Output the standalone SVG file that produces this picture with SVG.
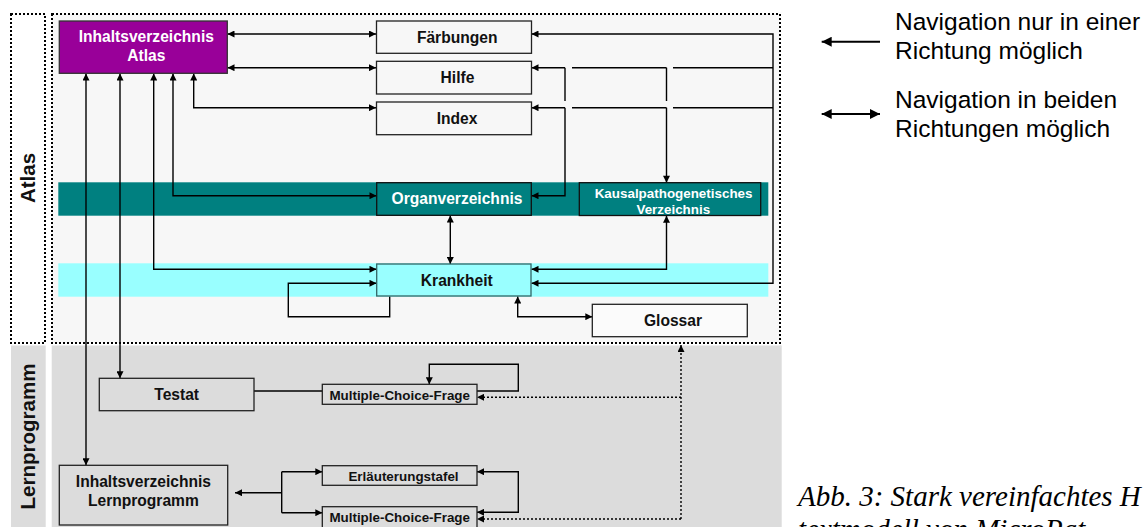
<svg xmlns="http://www.w3.org/2000/svg" width="1144" height="527" viewBox="0 0 1144 527">
<style>
.frame{stroke:#000;stroke-width:2;stroke-dasharray:2 2}
.box{fill:none;stroke:#222;stroke-width:1.3}
.t{font-family:"Liberation Sans",Arial,sans-serif;font-weight:bold;font-size:15.6px;text-anchor:middle;fill:#111}
.s{font-size:13.4px}
.w{fill:#fff}
.c{fill:none;stroke:#000;stroke-width:1.4}
.d{stroke-dasharray:2 2}
.lab{font-family:"Liberation Sans",Arial,sans-serif;font-weight:bold;font-size:20.5px;text-anchor:middle;fill:#111}
.leg{font-family:"Liberation Sans",Arial,sans-serif;font-size:24.5px;fill:#000}
.cap{font-family:"Liberation Serif","Times New Roman",serif;font-style:italic;font-size:29px;fill:#000}
</style>
<defs>
<marker id="a" viewBox="0 0 10 10" refX="10" refY="5" markerWidth="8" markerHeight="7" markerUnits="userSpaceOnUse" orient="auto-start-reverse"><path d="M0,0 L10,5 L0,10 z" fill="#000"/></marker>
<marker id="L" viewBox="0 0 10 10" refX="10" refY="5" markerWidth="13" markerHeight="10" markerUnits="userSpaceOnUse" orient="auto-start-reverse"><path d="M0,0 L10,5 L0,10 z" fill="#000"/></marker>
</defs>
<rect width="1144" height="527" fill="#fff"/>
<g id="area-atlas">
<rect x="11" y="14" width="34" height="329" fill="#fff" class="frame"/>
<rect x="52" y="14" width="728" height="329" fill="#f7f7f7" class="frame"/>
<text class="lab" transform="translate(35,178) rotate(-90)">Atlas</text>
</g>
<g id="area-lernprogramm">
<rect x="11" y="345.5" width="34.7" height="182" fill="#dcdcdc"/>
<rect x="51.7" y="345.5" width="730" height="182" fill="#dcdcdc"/>
<text class="lab" transform="translate(34.5,436.5) rotate(-90)">Lernprogramm</text>
</g>
<g id="bands">
<rect x="58.3" y="182.3" width="710" height="33.4" fill="#008080"/>
<rect x="58.3" y="263.3" width="710" height="33.4" fill="#99ffff"/>
</g>
<g id="connectors">
<path class="c" d="M227.5,34 H376" marker-start="url(#a)" marker-end="url(#a)"/>
<path class="c" d="M227.5,67.7 H376" marker-start="url(#a)" marker-end="url(#a)"/>
<path class="c" d="M193.7,73.5 V107.7 H376" marker-start="url(#a)" marker-end="url(#a)"/>
<path class="c" d="M173,73.5 V195.7 H376.5" marker-start="url(#a)" marker-end="url(#a)"/>
<path class="c" d="M153.7,73.5 V269.3 H376.5" marker-start="url(#a)" marker-end="url(#a)"/>
<path class="c" d="M120,73.5 V378.3" marker-start="url(#a)" marker-end="url(#a)"/>
<path class="c" d="M86,73.5 V465.3" marker-start="url(#a)" marker-end="url(#a)"/>
<path class="c" d="M531.5,34 H773 V283.3 H531.5" marker-start="url(#a)" marker-end="url(#a)"/>
<path class="c" d="M565,67.7 H531.5" marker-end="url(#a)"/>
<path class="c" d="M572,67.7 H666.5 M673,67.7 H773"/>
<path class="c" d="M565,107.7 H531.5" marker-end="url(#a)"/>
<path class="c" d="M572,107.7 H666.5 M673,107.7 H773"/>
<path class="c" d="M565,67.7 V101"/>
<path class="c" d="M565,107.7 V195.7 H531.5" marker-end="url(#a)"/>
<path class="c" d="M666.5,67.7 V101"/>
<path class="c" d="M666.5,107.7 V182.7" marker-end="url(#a)"/>
<path class="c" d="M666.5,215.7 V269.3 H531.5" marker-start="url(#a)" marker-end="url(#a)"/>
<path class="c" d="M450.3,215.5 V264" marker-start="url(#a)" marker-end="url(#a)"/>
<path class="c" d="M389.7,296.5 V316.7 H288.3 V283.3 H376.5" marker-end="url(#a)"/>
<path class="c" d="M517.7,296.5 V316.7 H592.3" marker-start="url(#a)" marker-end="url(#a)"/>
<path class="c" d="M254,391 H322.3"/>
<path class="c" d="M477,391 H518.3 V364.3 H429.3 V384.3" marker-end="url(#a)"/>
<path class="c" d="M281.7,492.7 H235" marker-end="url(#a)"/>
<path class="c" d="M281.7,471.7 V512.7"/>
<path class="c" d="M281.7,471.7 H322.3" marker-end="url(#a)"/>
<path class="c" d="M281.7,512.7 H322.3" marker-end="url(#a)"/>
<path class="c" d="M477,471.7 H518.3 V512.3 H477" marker-start="url(#a)" marker-end="url(#a)"/>
<path class="c d" d="M681,397.3 H477" marker-end="url(#a)"/>
<path class="c d" d="M681,519 H477" marker-end="url(#a)"/>
<path class="c d" d="M681,519 V345" marker-end="url(#a)"/>
</g>
<g id="n-inhalt-atlas">
<rect x="59.3" y="21" width="168" height="52.3" fill="#990099" stroke="#333" stroke-width="1.3"/>
<text class="t w" x="146.3" y="42">Inhaltsverzeichnis</text>
<text class="t w" x="146.3" y="61">Atlas</text>
</g>
<g id="n-faerbungen">
<rect class="box" x="376.5" y="21" width="155" height="32.3"/>
<text class="t" x="457.2" y="42.5">Färbungen</text>
</g>
<g id="n-hilfe">
<rect class="box" x="376.5" y="61.3" width="155" height="32.7"/>
<text class="t" x="457.5" y="83.2">Hilfe</text>
</g>
<g id="n-index">
<rect class="box" x="376.5" y="102" width="155" height="32.7"/>
<text class="t" x="457" y="123.8">Index</text>
</g>
<g id="n-organ">
<rect x="376.7" y="182.7" width="154.6" height="32.6" fill="#008080" stroke="#111" stroke-width="1.3"/>
<text class="t w" x="457" y="204.3">Organverzeichnis</text>
</g>
<g id="n-kausal">
<rect x="579.3" y="182.7" width="181.4" height="32.8" fill="#008080" stroke="#111" stroke-width="1.3"/>
<text class="t s w" x="673.6" y="197.7">Kausalpathogenetisches</text>
<text class="t s w" x="673.3" y="214">Verzeichnis</text>
</g>
<g id="n-krankheit">
<rect x="376.7" y="264" width="154.3" height="32" fill="#99ffff" stroke="#336666" stroke-width="1.3"/>
<text class="t" x="456.8" y="285.5">Krankheit</text>
</g>
<g id="n-glossar">
<rect x="592.3" y="304.3" width="155" height="32.4" fill="#fbfbfb" stroke="#222" stroke-width="1.3"/>
<text class="t" x="673" y="326">Glossar</text>
</g>
<g id="n-testat">
<rect class="box" x="99.3" y="378.3" width="154.7" height="32.4"/>
<text class="t" x="176.7" y="400">Testat</text>
</g>
<g id="n-mcf1">
<rect class="box" x="322.3" y="384.3" width="154.7" height="20"/>
<text class="t s" x="399.7" y="399.5">Multiple-Choice-Frage</text>
</g>
<g id="n-inhalt-lern">
<rect class="box" x="59.3" y="465.3" width="168.4" height="59.7"/>
<text class="t" x="143.4" y="486.8">Inhaltsverzeichnis</text>
<text class="t" x="143.4" y="506.3">Lernprogramm</text>
</g>
<g id="n-erlaeuterung">
<rect class="box" x="322.3" y="465.7" width="154.7" height="19.6"/>
<text class="t s" x="403.5" y="480.7">Erläuterungstafel</text>
</g>
<g id="n-mcf2">
<rect class="box" x="322.3" y="506.7" width="154.7" height="22"/>
<text class="t s" x="399.7" y="521.7">Multiple-Choice-Frage</text>
</g>
<g id="legend">
<path d="M880,41.7 H821.7" stroke="#000" stroke-width="2" fill="none" marker-end="url(#L)"/>
<path d="M821.7,114 H880" stroke="#000" stroke-width="2" fill="none" marker-start="url(#L)" marker-end="url(#L)"/>
<text class="leg" x="895" y="30">Navigation nur in einer</text>
<text class="leg" x="895" y="59">Richtung möglich</text>
<text class="leg" x="895" y="108">Navigation in beiden</text>
<text class="leg" x="895" y="137">Richtungen möglich</text>
</g>
<g id="caption">
<text class="cap" x="798" y="506">Abb. 3: Stark vereinfachtes H</text>
<text class="cap" x="798" y="539">textmodell von MicroPat</text>
</g>
</svg>
